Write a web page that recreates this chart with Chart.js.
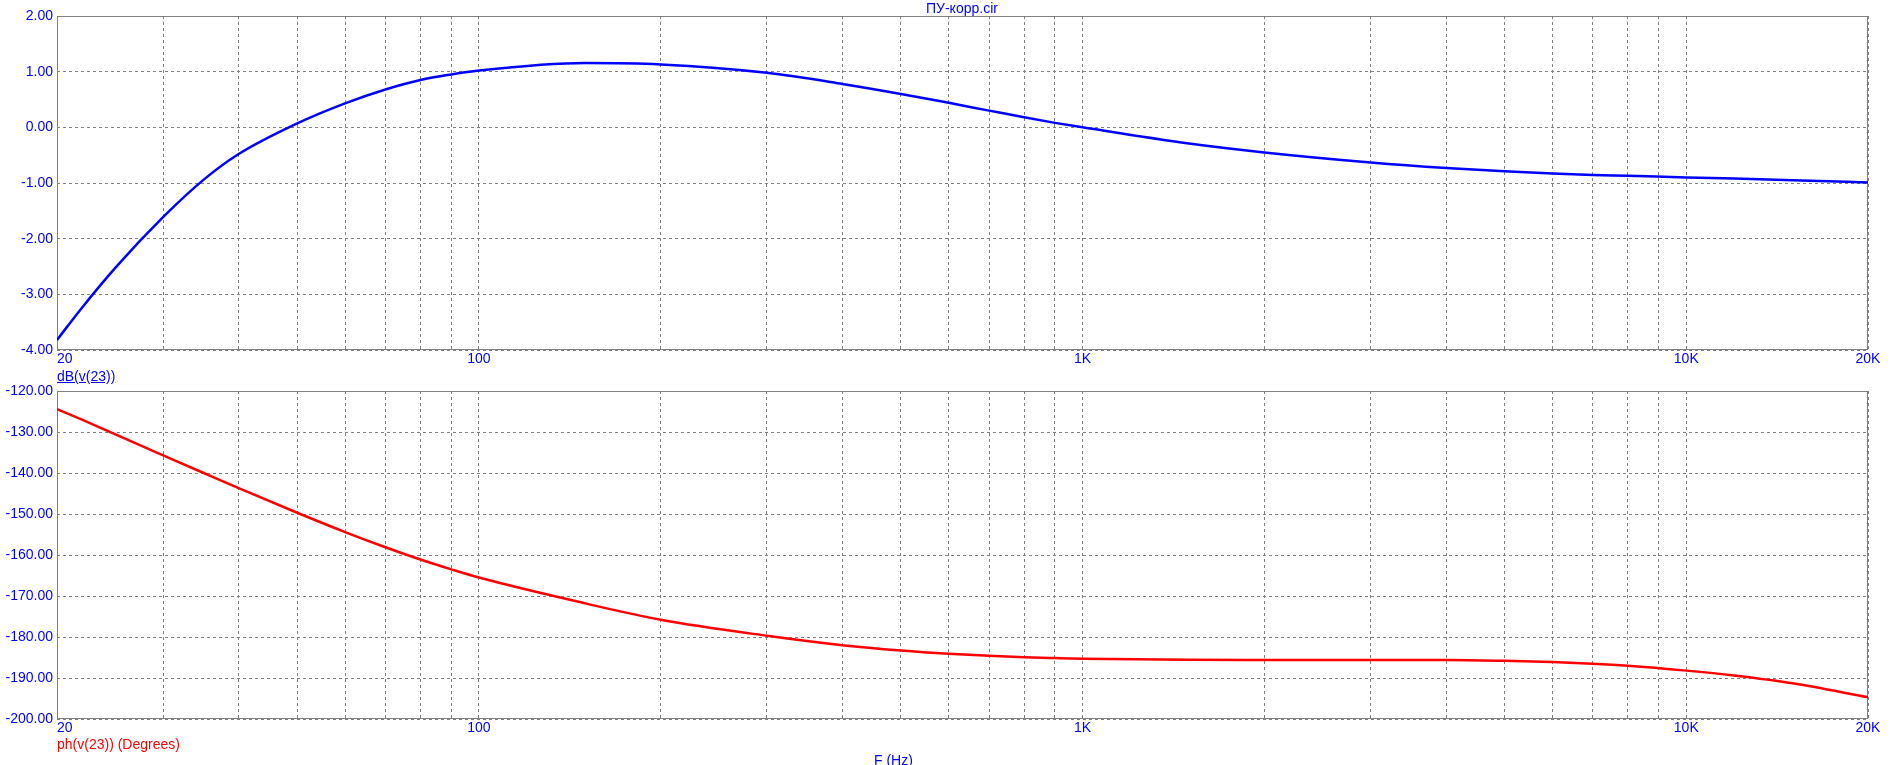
<!DOCTYPE html>
<html>
<head>
<meta charset="utf-8">
<script src="https://cdn.jsdelivr.net/npm/chart.js@4.4.1/dist/chart.umd.min.js"></script>
<style>
  html, body { margin: 0; padding: 0; background: #fff; }
  body { width: 1899px; height: 765px; position: relative; overflow: hidden; font-family: "Liberation Sans", Arial, sans-serif; }
  .wrap { position: absolute; left: 0; width: 1899px; height: 390px; }
  .lbl { position: absolute; font-size: 14px; line-height: 16px; white-space: nowrap; z-index: 2; }
</style>
</head>
<body>
<div class="lbl" style="left:926px; top:0px; color:#0000ff;">ПУ-корр.cir</div>
<div class="wrap" style="top:0px;"><canvas id="grafico"></canvas></div>
<div class="lbl" style="left:57px; top:368px; color:#0000ff; text-decoration:underline;">dB(v(23))</div>
<div class="wrap" style="top:375px;"><canvas id="graficoFase"></canvas></div>
<div class="lbl" style="left:57px; top:736px; color:#ff0000;">ph(v(23)) (Degrees)</div>
<div class="lbl" style="left:874px; top:752px; color:#0000ff;">F (Hz)</div>

<script>
// Dados
const freqs = [20, 22, 25, 30, 35, 40, 50, 60, 70, 80, 90, 100, 150, 200, 300, 400, 500, 600, 700, 800, 900,
  1000, 1500, 2000, 3000, 4000, 5000, 6000, 7000, 8000, 10000, 12000, 15000, 20000];
const ganhoDb = [-3.82, -3.24, -2.52, -1.61, -0.94, -0.48, 0.07, 0.43, 0.68, 0.85, 0.95, 1.02, 1.155, 1.13, 0.98,
  0.78, 0.60, 0.44, 0.30, 0.18, 0.08, 0.00, -0.29, -0.45, -0.63, -0.73, -0.79, -0.83, -0.855, -0.87, -0.90,
  -0.92, -0.95, -0.99];
const faseGraus = [-124.4, -127.0, -130.6, -135.7, -140.0, -143.7, -149.7, -154.4, -158.1, -161.1, -163.5,
  -165.5, -171.8, -175.8, -179.7, -182.0, -183.3, -184.1, -184.6, -184.95, -185.15, -185.3, -185.55, -185.6,
  -185.6, -185.6, -185.8, -186.1, -186.5, -187.0, -188.2, -189.4, -191.3, -194.7];

// Linhas de grade do eixo X e rótulos
const gridFreqs = [20, 30, 40, 50, 60, 70, 80, 90, 100, 200, 300, 400, 500, 600, 700, 800, 900,
  1000, 2000, 3000, 4000, 5000, 6000, 7000, 8000, 9000, 10000, 20000];
const freqTickValues = [20, 100, 1000, 10000, 20000];
const freqTickLabels = ["    20", "100", "1K", "10K", "20K"];

const AZUL = "#0000ff";
const VERMELHO = "#ff0000";
const CINZA = "#808080";
const fonte = { family: "'Liberation Sans', Arial, sans-serif", size: 14 };

// Moldura sólida em volta da área do gráfico
const moldura = {
  id: "moldura",
  beforeDatasetsDraw(chart) {
    const { ctx, chartArea: a } = chart;
    ctx.save();
    ctx.strokeStyle = CINZA;
    ctx.lineWidth = 1;
    ctx.setLineDash([]);
    const l = Math.round(a.left) + 0.5, t = Math.round(a.top) + 0.5;
    const r = Math.round(a.right) - 0.5, b = Math.round(a.bottom) - 0.5;
    ctx.strokeRect(l, t, r - l, b - t);
    ctx.restore();
  },
};

const criarGrafico = (id, valores, cor, yMin, yMax, passo, alturaX) => {
  return new Chart(document.getElementById(id).getContext("2d"), {
    type: "line",
    data: {
      datasets: [{
        data: freqs.map((f, i) => ({ x: f, y: valores[i] })),
        borderColor: cor,
        borderWidth: 2.5,
        pointRadius: 0,
        cubicInterpolationMode: "monotone",
        fill: false,
      }],
    },
    options: {
      responsive: true,
      maintainAspectRatio: false,
      animation: false,
      events: [],
      layout: { padding: { top: 16, right: 31, left: 0, bottom: 0 } },
      plugins: { legend: { display: false }, tooltip: { enabled: false }, title: { display: false } },
      scales: {
        x: {
          type: "logarithmic",
          min: 20,
          max: 20000,
          afterBuildTicks: (s) => { s.ticks = gridFreqs.map((v) => ({ value: v })); },
          afterFit: (s) => { s.height = alturaX; },
          ticks: {
            autoSkip: false,
            maxRotation: 0,
            padding: 1,
            color: AZUL,
            font: fonte,
            callback: (v) => {
              const i = freqTickValues.indexOf(v);
              return i >= 0 ? freqTickLabels[i] : "";
            },
          },
          grid: { color: CINZA, lineWidth: 1, drawTicks: false, borderDash: [3, 3] },
          border: { display: false, dash: [3, 3] },
        },
        y: {
          min: yMin,
          max: yMax,
          afterFit: (s) => { s.width = 57; },
          ticks: {
            stepSize: passo,
            padding: 4,
            color: AZUL,
            font: fonte,
            callback: (v) => Number(v).toFixed(2),
          },
          grid: { color: CINZA, lineWidth: 1, drawTicks: false, borderDash: [3, 3] },
          border: { display: false, dash: [3, 3] },
        },
      },
    },
    plugins: [moldura],
  });
};

criarGrafico("grafico", ganhoDb, AZUL, -4, 2, 1, 40);
criarGrafico("graficoFase", faseGraus, VERMELHO, -200, -120, 10, 46);
</script>
</body>
</html>
